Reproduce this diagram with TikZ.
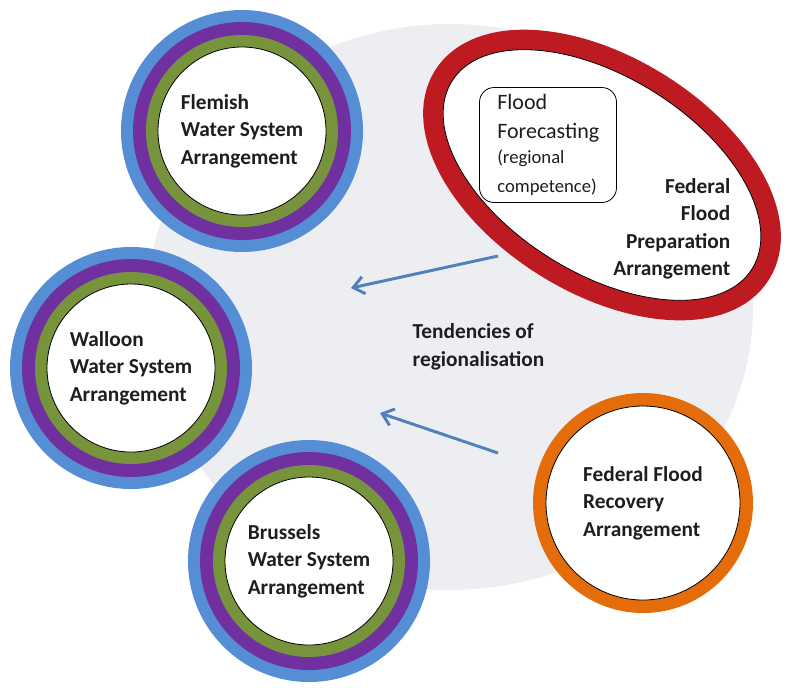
\documentclass[tikz,border=0pt]{standalone}
\usepackage{fontspec}
\setmainfont{Carlito}
\usetikzlibrary{shapes.geometric,arrows.meta}
\definecolor{ringblue}{HTML}{558ED5}
\definecolor{ringpurple}{HTML}{7030A0}
\definecolor{ringgreen}{HTML}{77933C}
\definecolor{floodred}{HTML}{BE1A22}
\definecolor{floodorange}{HTML}{E46C0A}
\definecolor{bggrey}{HTML}{EDEEF2}
\definecolor{arrowblue}{HTML}{4F81BD}
\definecolor{textdark}{HTML}{1E1E1E}
\begin{document}
\begin{tikzpicture}[x=0.75pt,y=0.75pt,
  label font/.style={font=\fontsize{16}{20.6}\selectfont\bfseries,text=textdark},
  region/.style={circle,fill=white,draw=black,line width=0.6pt,minimum size=126pt,inner sep=0pt,align=left,label font,
    preaction={draw=ringblue,line width=55.5pt},
    preaction={draw=ringpurple,line width=37.5pt},
    preaction={draw=ringgreen,line width=18pt}},
  federal/.style={fill=white,draw=black,line width=0.6pt,inner sep=0pt},
  trend/.style={draw=arrowblue,line width=2.2pt,-{Straight Barb[length=8pt,width=13pt]}}]
\useasboundingbox (0,0) rectangle (787,-687);
\fill[bggrey] (450,-307) ellipse [x radius=303,y radius=283];
\node[region] (flemish) at (242,-131) {Flemish\\Water System\\Arrangement};
\node[region] (walloon) at (131,-368) {Walloon\\Water System\\Arrangement};
\node[region] (brussels) at (309,-561) {Brussels\\Water System\\Arrangement};
\node[federal,ellipse,rotate=-32,minimum width=265.5pt,minimum height=147pt,
  preaction={draw=floodred,line width=30pt}] (preparation) at (602,-175) {};
\node[federal,circle,minimum size=145.5pt,align=left,label font,
  preaction={draw=floodorange,line width=19.5pt}] (recovery) at (643,-503) {Federal Flood\\Recovery\\Arrangement};
\node[draw=black,fill=white,line width=0.6pt,rounded corners=11pt,minimum width=102.75pt,minimum height=86.25pt,
  text width=76pt,inner sep=0pt,align=left,text=textdark,font=\fontsize{16.5}{21.5}\selectfont] (forecast) at (548,-145)
  {Flood\\Forecasting\\{\fontsize{14}{19}\selectfont(regional\\competence)}};
\node[anchor=east,align=right,label font] (preplabel) at (735,-229) {Federal\\Flood\\Preparation\\Arrangement};
\node[anchor=west,align=left,label font] (tendency) at (408,-347) {Tendencies of\\regionalisation};
\coordinate (upstart) at (498,-256);
\coordinate (upend) at (351,-288);
\coordinate (lowstart) at (498,-453);
\coordinate (lowend) at (380,-413);
\draw[trend] (upstart) -- (upend);
\draw[trend] (lowstart) -- (lowend);
\end{tikzpicture}
\end{document}
